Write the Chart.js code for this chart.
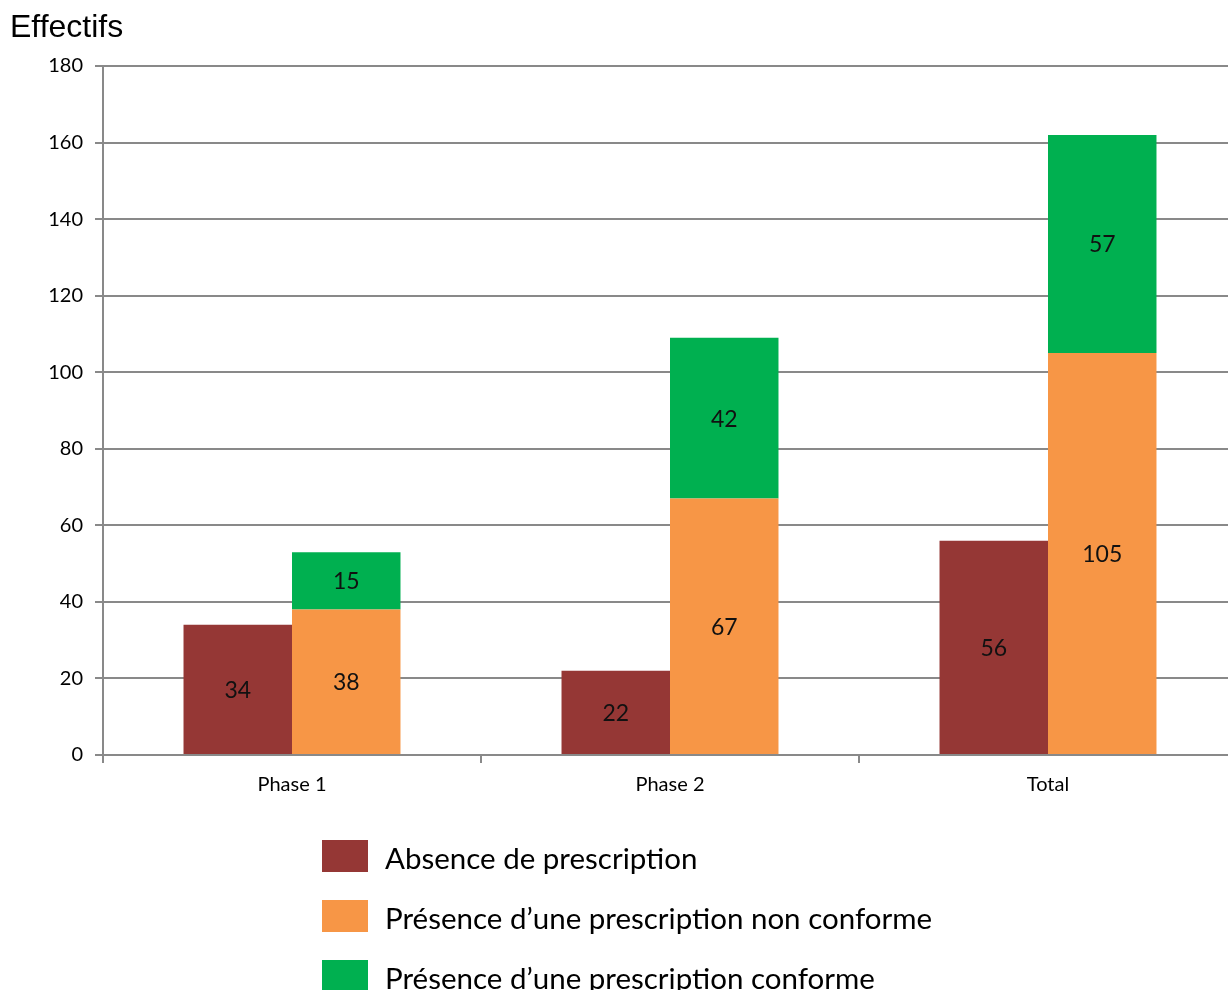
<!DOCTYPE html>
<html>
<head>
<meta charset="utf-8">
<script src="https://cdn.jsdelivr.net/npm/chart.js@4"></script>
<style>
  html, body { margin: 0; padding: 0; background: #fff; overflow: hidden; }
  canvas { display: block; }
</style>
</head>
<body>
<!-- plot area runs a little past the right edge of the window, as in the original -->
<canvas id="chart" width="1237" height="990"></canvas>
<script>
// --- data ---
const categories = ["Phase 1", "Phase 2", "Total"];
const absence = [34, 22, 56];
const nonConforme = [38, 67, 105];
const conforme = [15, 42, 57];
const yTicks = [0, 20, 40, 60, 80, 100, 120, 140, 160, 180];

const gridGray = "#898989";
const labelFont = "Lato, 'Open Sans', sans-serif";

// title "Effectifs" top-left
const titlePlugin = {
  id: "titleText",
  afterDraw(chart) {
    const ctx = chart.ctx;
    ctx.save();
    ctx.font = "32px 'Liberation Sans', Arial, sans-serif";
    ctx.fillStyle = "#000";
    ctx.textBaseline = "alphabetic";
    ctx.textAlign = "left";
    ctx.fillText("Effectifs", 10, 37);
    ctx.restore();
  }
};

// values centred in each segment
const valueLabels = {
  id: "valueLabels",
  afterDatasetsDraw(chart) {
    const ctx = chart.ctx;
    ctx.save();
    ctx.font = "23px " + labelFont;
    ctx.fillStyle = "#111";
    ctx.textAlign = "center";
    ctx.textBaseline = "middle";
    chart.data.datasets.forEach((ds, i) => {
      chart.getDatasetMeta(i).data.forEach((bar, j) => {
        ctx.fillText(ds.data[j], bar.x, (bar.y + bar.base) / 2 + 1);
      });
    });
    ctx.restore();
  }
};

// vertical legend below the chart
const vLegend = {
  id: "vLegend",
  afterDraw(chart) {
    const ctx = chart.ctx;
    ctx.save();
    ctx.font = "29.5px " + labelFont;
    ctx.textAlign = "left";
    ctx.textBaseline = "middle";
    chart.data.datasets.forEach((ds, i) => {
      const y = 840 + i * 60;
      ctx.fillStyle = ds.backgroundColor;
      ctx.fillRect(322, y, 46, 32);
      ctx.fillStyle = "#000";
      ctx.fillText(ds.label, 385, y + 19);
    });
    ctx.restore();
  }
};

new Chart(document.getElementById("chart"), {
  type: "bar",
  data: {
    labels: categories,
    datasets: [
      { label: "Absence de prescription", data: absence, backgroundColor: "#953735", stack: "a" },
      { label: "Présence d’une prescription non conforme", data: nonConforme, backgroundColor: "#F79646", stack: "b" },
      { label: "Présence d’une prescription conforme", data: conforme, backgroundColor: "#00B050", stack: "b" }
    ]
  },
  options: {
    responsive: false,
    animation: false,
    layout: { padding: { top: 66, left: 0, right: 0, bottom: 185 } },
    datasets: { bar: { categoryPercentage: 0.574, barPercentage: 1.0 } },
    plugins: {
      legend: { display: false },
      tooltip: { enabled: false },
      title: { display: false }
    },
    scales: {
      x: {
        stacked: true,
        afterFit: (s) => { s.height = 50; },
        grid: { drawOnChartArea: false, drawTicks: true, tickLength: 8, color: gridGray, lineWidth: 2 },
        border: { display: true, color: gridGray, width: 2 },
        ticks: { color: "#000", font: { family: labelFont, size: 20 }, padding: 10 }
      },
      y: {
        stacked: true,
        min: 0,
        max: 180,
        afterFit: (s) => { s.width = 103; },
        afterBuildTicks: (s) => { s.ticks = yTicks.map((v) => ({ value: v })); },
        grid: { color: gridGray, lineWidth: 2, tickLength: 8 },
        border: { display: true, color: gridGray, width: 2 },
        ticks: { color: "#000", font: { family: labelFont, size: 20 }, padding: 12 }
      }
    }
  },
  plugins: [titlePlugin, valueLabels, vLegend]
});
</script>
</body>
</html>
